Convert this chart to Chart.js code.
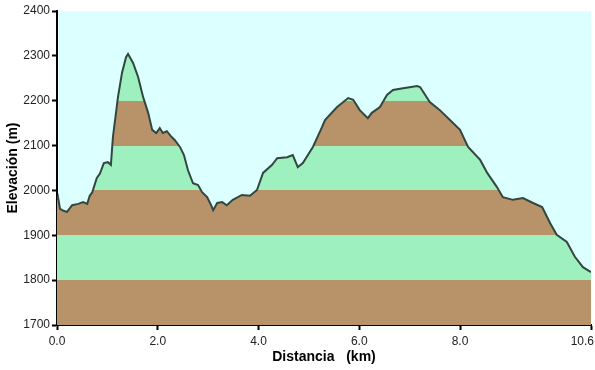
<!DOCTYPE html>
<html>
<head>
<meta charset="utf-8">
<script src="https://cdn.jsdelivr.net/npm/chart.js@4/dist/chart.umd.min.js"></script>
<style>
  html, body { margin: 0; padding: 0; background: #fff; }
  #wrap { width: 595px; height: 370px; }
</style>
</head>
<body>
<div id="wrap"><canvas id="perfil"></canvas></div>
<script>
const distKm = [0, 0.02, 0.06, 0.14, 0.2, 0.3, 0.42, 0.52, 0.6, 0.65, 0.7, 0.79, 0.85, 0.93, 1.01, 1.07,
  1.11, 1.21, 1.29, 1.37, 1.41, 1.51, 1.61, 1.71, 1.81, 1.89, 1.97, 2.04, 2.1, 2.18, 2.26, 2.34,
  2.44, 2.52, 2.6, 2.7, 2.8, 2.88, 2.98, 3.06, 3.1, 3.18, 3.28, 3.37, 3.49, 3.67, 3.83, 3.97,
  4.09, 4.27, 4.37, 4.57, 4.68, 4.78, 4.88, 5.08, 5.26, 5.32, 5.56, 5.78, 5.88, 6.01, 6.17, 6.25,
  6.41, 6.55, 6.67, 6.87, 7.15, 7.21, 7.4, 7.6, 7.8, 8.0, 8.16, 8.4, 8.54, 8.73, 8.85, 9.05,
  9.25, 9.45, 9.63, 9.79, 9.92, 10.12, 10.28, 10.44, 10.6];
const elevM = [1979, 1985, 1959, 1954, 1952, 1967, 1970, 1974, 1970, 1988, 1996, 2028, 2037, 2061, 2063, 2057,
  2119, 2208, 2262, 2297, 2304, 2284, 2253, 2208, 2173, 2135, 2128, 2139, 2128, 2132, 2121, 2112,
  2097, 2079, 2045, 2016, 2012, 1996, 1985, 1967, 1956, 1972, 1974, 1967, 1979, 1990, 1988, 2001,
  2039, 2057, 2072, 2074, 2079, 2052, 2061, 2097, 2141, 2157, 2186, 2206, 2202, 2179, 2161, 2173,
  2186, 2213, 2224, 2228, 2233, 2230, 2197, 2179, 2157, 2135, 2097, 2068, 2039, 2008, 1985, 1979,
  1983, 1972, 1963, 1927, 1901, 1885, 1852, 1829, 1818];
const xTicks = [0, 2, 4, 6, 8, 10.6];
const yMin = 1700, yMax = 2400, bandStep = 100;

const BROWN = '#b8936a';
const GREEN = '#9ef0bf';

// franjas de 100 m alternando marron / verde
function bandFill(ctx) {
  const chart = ctx.chart;
  const area = chart.chartArea;
  if (!area) return BROWN;
  const y = chart.scales.y;
  const top = y.getPixelForValue(yMax), bottom = y.getPixelForValue(yMin);
  const g = chart.ctx.createLinearGradient(0, bottom, 0, top);
  const span = yMax - yMin;
  let i = 0;
  for (let v = yMin; v < yMax; v += bandStep, i++) {
    const c = i % 2 === 0 ? BROWN : GREEN;
    g.addColorStop((v - yMin) / span, c);
    g.addColorStop(Math.min(1, (v + bandStep - yMin) / span - 0.0001), c);
  }
  return g;
}

const plotBg = {
  id: 'plotBg',
  beforeDraw(chart) {
    const a = chart.chartArea, c = chart.ctx;
    c.save();
    c.fillStyle = '#dcffff';
    c.fillRect(a.left, a.top, a.right - a.left, a.bottom - a.top);
    c.restore();
    // la ultima etiqueta del eje x va pegada al borde derecho
    const items = chart.scales.x.getLabelItems(a);
    const last = items[items.length - 1];
    if (last) {
      last.options.textAlign = 'right';
      last.options.translation[0] = chart.width - 1;
    }
  }
};

new Chart(document.getElementById('perfil'), {
  type: 'line',
  data: {
    datasets: [{
      data: distKm.map((d, i) => ({ x: d, y: elevM[i] })),
      borderColor: '#33463f',
      borderWidth: 2,
      pointRadius: 0,
      tension: 0,
      fill: 'origin',
      backgroundColor: bandFill
    }]
  },
  options: {
    responsive: true,
    maintainAspectRatio: false,
    animation: false,
    layout: { padding: { top: 11, right: 4, left: 0, bottom: 0 } },
    plugins: { legend: { display: false }, tooltip: { enabled: false } },
    scales: {
      x: {
        type: 'linear',
        min: 0,
        max: 10.6,
        afterBuildTicks(scale) { scale.ticks = xTicks.map(v => ({ value: v })); },
        afterFit(scale) { scale.height = 45; scale.paddingRight = 0; },
        border: { color: '#000', width: 2 },
        grid: { drawOnChartArea: false, color: '#000', tickLength: 5, tickWidth: 2 },
        ticks: {
          maxRotation: 0,
          autoSkip: false,
          padding: 4,
          color: '#222',
          font: { family: 'Liberation Sans', size: 12 },
          callback: v => Number(v).toFixed(1)
        },
        title: {
          display: true,
          text: 'Distancia   (km)',
          color: '#000',
          padding: { top: 4, bottom: 4 },
          font: { family: 'Liberation Sans', size: 14, weight: 'bold' }
        }
      },
      y: {
        min: yMin,
        max: yMax,
        afterFit(scale) { scale.width = 57; },
        border: { color: '#000', width: 2 },
        grid: { drawOnChartArea: false, color: '#000', tickLength: 5, tickWidth: 2 },
        ticks: {
          stepSize: 100,
          padding: 2,
          color: '#222',
          font: { family: 'Liberation Sans', size: 12 },
          callback: v => String(v)
        },
        title: {
          display: true,
          text: 'Elevación (m)',
          color: '#000',
          padding: { top: 5, bottom: 5 },
          font: { family: 'Liberation Sans', size: 14, weight: 'bold' }
        }
      }
    }
  },
  plugins: [plotBg]
});
</script>
</body>
</html>
